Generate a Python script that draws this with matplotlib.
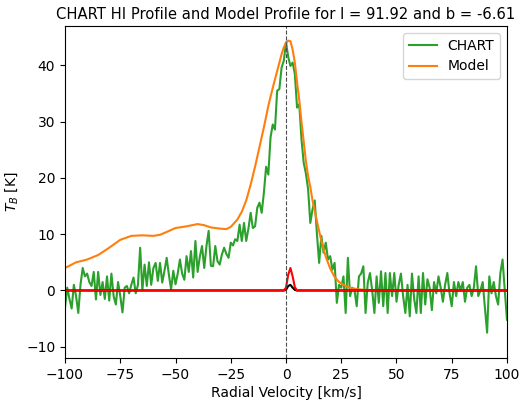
import numpy as np
import matplotlib
matplotlib.use('Agg')
import matplotlib.pyplot as plt

# CHART profile, 1 km/s channels from -100 to 100
v_chart = list(range(-100, 101))
t_chart = [
    -3.0, 0.5, -1.5, -3.2, 1.0, -1.0, -4.0, 1.0, 4.0, 2.5,          # -100..-91
    3.0, 1.5, 0.8, 3.3, -1.6, 3.3, -0.8, 1.5, -1.5, 2.5,            # -90..-81
    -1.8, 3.0, -1.0, -2.5, 1.5, -1.0, -3.9, 0.5, 0.8, -0.5,         # -80..-71
    1.0, 2.3, -0.5, 1.0, 7.6, 0.0, 4.6, 0.8, 5.0, 1.0,              # -70..-61
    4.0, 4.9, 1.7, 4.9, 1.4, 3.5, 5.8, 2.8, 0.2, 3.5,               # -60..-51
    1.1, 3.0, 5.5, 3.0, 1.9, 6.1, 3.3, 7.0, 2.3, 8.8,               # -50..-41
    3.3, 6.0, 7.9, 4.0, 7.9, 10.6, 4.4, 4.3, 7.9, 5.2,              # -40..-31
    4.6, 6.4, 7.6, 6.5, 5.8, 8.5, 8.0, 9.1, 8.8, 11.7,              # -30..-21
    8.8, 12.0, 8.8, 11.0, 13.8, 11.1, 11.4, 14.7, 15.6, 13.8,       # -20..-11
    17.4, 22.0, 20.6, 27.2, 29.5, 28.6, 35.5, 35.8, 39.6, 40.8,     # -10..-1
    44.1, 41.5, 39.9, 40.5, 38.5, 32.5, 33.1, 26.9, 22.7, 20.8,     # 0..9
    18.0, 12.0, 14.4, 16.0, 10.0, 4.9, 9.7, 6.7, 8.5, 5.5,          # 10..19
    6.1, 3.7, 4.9, -2.2, 1.0, 0.5, 2.5, -4.0, 5.8, -1.0,            # 20..29
    0.5, 0.0, -2.8, 2.5, 3.0, 4.3, -4.0, 1.4, 3.1, 0.0,             # 30..39
    -4.0, 2.5, -2.2, 3.4, -2.8, 3.1, -4.0, 3.1, -1.0, 3.1,          # 40..49
    -2.0, 1.0, 3.0, -1.0, -4.0, 1.0, -4.6, 3.0, -1.5, -4.0,         # 50..59
    2.5, -4.0, 3.1, -2.5, 2.0, 0.5, -3.5, 1.5, -0.5, 2.5,           # 60..69
    0.5, -2.0, 1.0, 3.1, -0.5, -2.8, 1.5, -1.0, 1.5, 0.0,           # 70..79
    1.5, -2.0, 0.5, 1.0, -1.0, 0.5, 4.3, -1.0, 0.0, 1.5,            # 80..89
    -3.0, -7.5, 2.5, -0.5, 1.5, -1.0, -2.5, 3.1, 5.5, 0.0,          # 90..99
    -5.2,                                                           # 100
]

# model profile
v_model = [-100, -95, -90, -85, -80, -75, -70, -65, -60, -57, -54, -50, -45,
           -40, -37, -34, -30, -27, -25, -22, -20, -18, -16, -14, -12, -10,
           -8, -6, -4, -2, -1, 0, 1, 2, 3, 4, 5, 6, 7, 8, 9, 10, 11, 12, 14,
           16, 18, 20, 22, 24, 26, 28, 30, 33, 36, 40, 50, 100]
t_model = [4.0, 5.0, 5.5, 6.3, 7.6, 9.0, 9.7, 9.8, 9.7, 9.9, 10.4, 11.1, 11.4,
           11.8, 11.6, 11.2, 11.0, 10.9, 11.3, 12.6, 14.0, 16.0, 18.8, 22.0,
           25.5, 29.0, 32.8, 36.0, 39.0, 42.0, 43.2, 44.0, 44.4, 44.3, 42.8,
           40.5, 37.0, 33.8, 30.0, 26.5, 23.0, 20.3, 18.4, 16.0, 12.3, 8.8,
           6.0, 3.9, 2.4, 1.5, 1.0, 0.6, 0.4, 0.2, 0.1, 0.05, 0.0, 0.0]

# small components near v = 0
v_comp = [-100, -1, 0, 1, 2, 3, 4, 5, 100]
t_red = [0.0, 0.0, 0.5, 2.8, 4.0, 2.5, 0.6, 0.0, 0.0]
t_black = [0.0, 0.0, 0.1, 0.8, 1.0, 0.5, 0.1, 0.0, 0.0]

l_gal, b_gal = 91.92, -6.61

fig = plt.figure(figsize=(5.21, 4.0), dpi=100)
ax = fig.add_axes([0.1248, 0.105, 0.8483, 0.83])

ax.plot(v_chart, t_chart, color='tab:green', label='CHART')
ax.plot(v_model, t_model, color='tab:orange', label='Model')
ax.plot(v_comp, t_black, color='k')
ax.plot(v_comp, t_red, color='red')
ax.axvline(0, color='0.3', ls='--', lw=0.8)

ax.set_xlim(-100, 100)
ax.set_ylim(-12, 47)
ax.set_xlabel('Radial Velocity [km/s]', labelpad=3)
ax.set_ylabel('$T_B$ [K]')
ax.set_title(f'CHART HI Profile and Model Profile for l = {l_gal} and b = {b_gal}',
             fontsize=10.6, pad=5)
ax.legend(loc='upper right')

fig.savefig('out.png', dpi=100)
